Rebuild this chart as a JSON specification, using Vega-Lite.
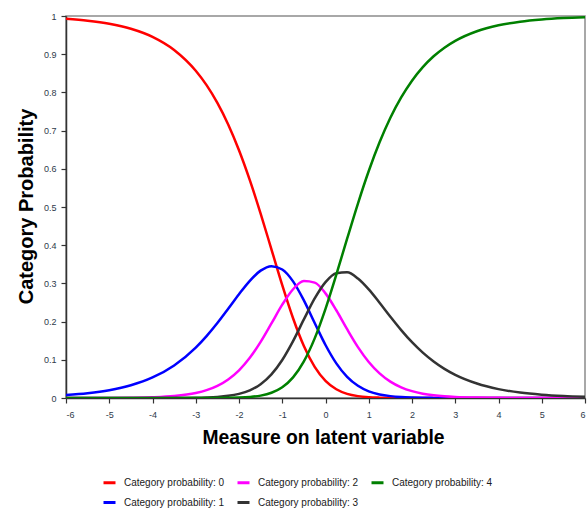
{
  "$schema": "https://vega.github.io/schema/vega-lite/v6.json",
  "width": 519,
  "height": 382,
  "autosize": {"type": "none"},
  "padding": {"left": 66, "top": 16, "right": 2, "bottom": 110},
  "background": "white",
  "config": {
    "view": {"stroke": "#8c8c8c", "strokeWidth": 1.5},
    "font": "Liberation Sans",
    "axis": {
      "grid": false,
      "domainColor": "#333333",
      "domainWidth": 1.5,
      "tickColor": "#333333",
      "tickWidth": 1.2,
      "tickSize": 5,
      "labelFont": "Liberation Sans",
      "labelFontSize": 9,
      "labelColor": "#2e3a4a",
      "titleFont": "Liberation Sans",
      "titleFontWeight": "bold",
      "titleColor": "#000000"
    }
  },
  "data": {
    "values": [
      {"x": -6, "c": "0", "p": 0.9925}, {"x": -6, "c": "1", "p": 0.0077}, {"x": -6, "c": "2", "p": 0.00004}, {"x": -6, "c": "3", "p": 0}, {"x": -6, "c": "4", "p": 0},
      {"x": -5.5, "c": "0", "p": 0.9876}, {"x": -5.5, "c": "1", "p": 0.0125}, {"x": -5.5, "c": "2", "p": 0.0001}, {"x": -5.5, "c": "3", "p": 0}, {"x": -5.5, "c": "4", "p": 0},
      {"x": -5, "c": "0", "p": 0.9797}, {"x": -5, "c": "1", "p": 0.0204}, {"x": -5, "c": "2", "p": 0.0003}, {"x": -5, "c": "3", "p": 0}, {"x": -5, "c": "4", "p": 0},
      {"x": -4.5, "c": "0", "p": 0.9667}, {"x": -4.5, "c": "1", "p": 0.0333}, {"x": -4.5, "c": "2", "p": 0.0007}, {"x": -4.5, "c": "3", "p": 0.00001}, {"x": -4.5, "c": "4", "p": 0},
      {"x": -4, "c": "0", "p": 0.9455}, {"x": -4, "c": "1", "p": 0.0537}, {"x": -4, "c": "2", "p": 0.0019}, {"x": -4, "c": "3", "p": 0.00004}, {"x": -4, "c": "4", "p": 0},
      {"x": -3.5, "c": "0", "p": 0.9112}, {"x": -3.5, "c": "1", "p": 0.0852}, {"x": -3.5, "c": "2", "p": 0.0051}, {"x": -3.5, "c": "3", "p": 0.0002}, {"x": -3.5, "c": "4", "p": 0},
      {"x": -3, "c": "0", "p": 0.8568}, {"x": -3, "c": "1", "p": 0.132}, {"x": -3, "c": "2", "p": 0.013}, {"x": -3, "c": "3", "p": 0.0007}, {"x": -3, "c": "4", "p": 0.00003},
      {"x": -2.75, "c": "0", "p": 0.8191}, {"x": -2.75, "c": "1", "p": 0.1621}, {"x": -2.75, "c": "2", "p": 0.0205}, {"x": -2.75, "c": "3", "p": 0.0015}, {"x": -2.75, "c": "4", "p": 0.0001},
      {"x": -2.5, "c": "0", "p": 0.7726}, {"x": -2.5, "c": "1", "p": 0.1962}, {"x": -2.5, "c": "2", "p": 0.0318}, {"x": -2.5, "c": "3", "p": 0.0029}, {"x": -2.5, "c": "4", "p": 0.0002},
      {"x": -2.25, "c": "0", "p": 0.7161}, {"x": -2.25, "c": "1", "p": 0.2336}, {"x": -2.25, "c": "2", "p": 0.0486}, {"x": -2.25, "c": "3", "p": 0.0056}, {"x": -2.25, "c": "4", "p": 0.0005},
      {"x": -2, "c": "0", "p": 0.6487}, {"x": -2, "c": "1", "p": 0.2717}, {"x": -2, "c": "2", "p": 0.0726}, {"x": -2, "c": "3", "p": 0.0109}, {"x": -2, "c": "4", "p": 0.0011},
      {"x": -1.75, "c": "0", "p": 0.5704}, {"x": -1.75, "c": "1", "p": 0.3068}, {"x": -1.75, "c": "2", "p": 0.1053}, {"x": -1.75, "c": "3", "p": 0.0202}, {"x": -1.75, "c": "4", "p": 0.0027},
      {"x": -1.5, "c": "0", "p": 0.4827}, {"x": -1.5, "c": "1", "p": 0.3334}, {"x": -1.5, "c": "2", "p": 0.1469}, {"x": -1.5, "c": "3", "p": 0.0363}, {"x": -1.5, "c": "4", "p": 0.0062},
      {"x": -1.25, "c": "0", "p": 0.3892}, {"x": -1.25, "c": "1", "p": 0.3451}, {"x": -1.25, "c": "2", "p": 0.1952}, {"x": -1.25, "c": "3", "p": 0.062}, {"x": -1.25, "c": "4", "p": 0.0137},
      {"x": -1, "c": "0", "p": 0.2954}, {"x": -1, "c": "1", "p": 0.3364}, {"x": -1, "c": "2", "p": 0.2443}, {"x": -1, "c": "3", "p": 0.0996}, {"x": -1, "c": "4", "p": 0.0282},
      {"x": -0.75, "c": "0", "p": 0.2088}, {"x": -0.75, "c": "1", "p": 0.3053}, {"x": -0.75, "c": "2", "p": 0.2847}, {"x": -0.75, "c": "3", "p": 0.149}, {"x": -0.75, "c": "4", "p": 0.0541},
      {"x": -0.5, "c": "0", "p": 0.1361}, {"x": -0.5, "c": "1", "p": 0.2555}, {"x": -0.5, "c": "2", "p": 0.306}, {"x": -0.5, "c": "3", "p": 0.2057}, {"x": -0.5, "c": "4", "p": 0.0959},
      {"x": -0.25, "c": "0", "p": 0.0815}, {"x": -0.25, "c": "1", "p": 0.1965}, {"x": -0.25, "c": "2", "p": 0.302}, {"x": -0.25, "c": "3", "p": 0.2607}, {"x": -0.25, "c": "4", "p": 0.1561},
      {"x": 0, "c": "0", "p": 0.0448}, {"x": 0, "c": "1", "p": 0.1387}, {"x": 0, "c": "2", "p": 0.2739}, {"x": 0, "c": "3", "p": 0.3035}, {"x": 0, "c": "4", "p": 0.2334},
      {"x": 0.25, "c": "0", "p": 0.0228}, {"x": 0.25, "c": "1", "p": 0.0906}, {"x": 0.25, "c": "2", "p": 0.2297}, {"x": 0.25, "c": "3", "p": 0.3268}, {"x": 0.25, "c": "4", "p": 0.3227},
      {"x": 0.5, "c": "0", "p": 0.0108}, {"x": 0.5, "c": "1", "p": 0.0553}, {"x": 0.5, "c": "2", "p": 0.18}, {"x": 0.5, "c": "3", "p": 0.3289}, {"x": 0.5, "c": "4", "p": 0.417},
      {"x": 0.75, "c": "0", "p": 0.0049}, {"x": 0.75, "c": "1", "p": 0.0319}, {"x": 0.75, "c": "2", "p": 0.1333}, {"x": 0.75, "c": "3", "p": 0.3127}, {"x": 0.75, "c": "4", "p": 0.5091},
      {"x": 1, "c": "0", "p": 0.0021}, {"x": 1, "c": "1", "p": 0.0175}, {"x": 1, "c": "2", "p": 0.0944}, {"x": 1, "c": "3", "p": 0.2842}, {"x": 1, "c": "4", "p": 0.5942},
      {"x": 1.25, "c": "0", "p": 0.0009}, {"x": 1.25, "c": "1", "p": 0.0094}, {"x": 1.25, "c": "2", "p": 0.0645}, {"x": 1.25, "c": "3", "p": 0.2494}, {"x": 1.25, "c": "4", "p": 0.6693},
      {"x": 1.5, "c": "0", "p": 0.0003}, {"x": 1.5, "c": "1", "p": 0.0049}, {"x": 1.5, "c": "2", "p": 0.0429}, {"x": 1.5, "c": "3", "p": 0.2129}, {"x": 1.5, "c": "4", "p": 0.7336},
      {"x": 1.75, "c": "0", "p": 0.0001}, {"x": 1.75, "c": "1", "p": 0.0024}, {"x": 1.75, "c": "2", "p": 0.0279}, {"x": 1.75, "c": "3", "p": 0.1778}, {"x": 1.75, "c": "4", "p": 0.7868},
      {"x": 2, "c": "0", "p": 0.0001}, {"x": 2, "c": "1", "p": 0.0012}, {"x": 2, "c": "2", "p": 0.0179}, {"x": 2, "c": "3", "p": 0.1461}, {"x": 2, "c": "4", "p": 0.8307},
      {"x": 2.25, "c": "0", "p": 0}, {"x": 2.25, "c": "1", "p": 0.0006}, {"x": 2.25, "c": "2", "p": 0.0113}, {"x": 2.25, "c": "3", "p": 0.1187}, {"x": 2.25, "c": "4", "p": 0.8661},
      {"x": 2.5, "c": "0", "p": 0}, {"x": 2.5, "c": "1", "p": 0.0003}, {"x": 2.5, "c": "2", "p": 0.0071}, {"x": 2.5, "c": "3", "p": 0.0955}, {"x": 2.5, "c": "4", "p": 0.8945},
      {"x": 2.75, "c": "0", "p": 0}, {"x": 2.75, "c": "1", "p": 0.0001}, {"x": 2.75, "c": "2", "p": 0.0044}, {"x": 2.75, "c": "3", "p": 0.0762}, {"x": 2.75, "c": "4", "p": 0.9171},
      {"x": 3, "c": "0", "p": 0}, {"x": 3, "c": "1", "p": 0.0001}, {"x": 3, "c": "2", "p": 0.0027}, {"x": 3, "c": "3", "p": 0.0605}, {"x": 3, "c": "4", "p": 0.935},
      {"x": 3.5, "c": "0", "p": 0}, {"x": 3.5, "c": "1", "p": 0}, {"x": 3.5, "c": "2", "p": 0.001}, {"x": 3.5, "c": "3", "p": 0.0378}, {"x": 3.5, "c": "4", "p": 0.9602},
      {"x": 4, "c": "0", "p": 0}, {"x": 4, "c": "1", "p": 0}, {"x": 4, "c": "2", "p": 0.0004}, {"x": 4, "c": "3", "p": 0.0233}, {"x": 4, "c": "4", "p": 0.9757},
      {"x": 4.5, "c": "0", "p": 0}, {"x": 4.5, "c": "1", "p": 0}, {"x": 4.5, "c": "2", "p": 0.0001}, {"x": 4.5, "c": "3", "p": 0.0142}, {"x": 4.5, "c": "4", "p": 0.9852},
      {"x": 5, "c": "0", "p": 0}, {"x": 5, "c": "1", "p": 0}, {"x": 5, "c": "2", "p": 0.0001}, {"x": 5, "c": "3", "p": 0.0087}, {"x": 5, "c": "4", "p": 0.991},
      {"x": 5.5, "c": "0", "p": 0}, {"x": 5.5, "c": "1", "p": 0}, {"x": 5.5, "c": "2", "p": 0}, {"x": 5.5, "c": "3", "p": 0.0053}, {"x": 5.5, "c": "4", "p": 0.9946},
      {"x": 6, "c": "0", "p": 0}, {"x": 6, "c": "1", "p": 0}, {"x": 6, "c": "2", "p": 0}, {"x": 6, "c": "3", "p": 0.0032}, {"x": 6, "c": "4", "p": 0.9967}
    ]
  },
  "mark": {"type": "line", "interpolate": "monotone", "strokeWidth": 2.5, "clip": true},
  "encoding": {
    "x": {
      "field": "x",
      "type": "quantitative",
      "scale": {"domain": [-6, 6], "nice": false, "zero": false},
      "axis": {
        "values": [-6, -5, -4, -3, -2, -1, 0, 1, 2, 3, 4, 5, 6],
        "labelExpr": "'' + datum.value",
        "labelPadding": 7,
        "title": "Measure on latent variable",
        "titleFontSize": 19.3,
        "titleX": 257,
        "titleY": 45,
        "titleBaseline": "alphabetic",
        "titleAlign": "center"
      }
    },
    "y": {
      "field": "p",
      "type": "quantitative",
      "scale": {"domain": [0, 1], "nice": false},
      "axis": {
        "values": [0, 0.1, 0.2, 0.3, 0.4, 0.5, 0.6, 0.7, 0.8, 0.9, 1],
        "labelExpr": "'' + datum.value",
        "labelPadding": 5,
        "title": "Category Probability",
        "titleFontSize": 20,
        "titleX": -34,
        "titleY": 190,
        "titleAngle": 270,
        "titleBaseline": "alphabetic",
        "titleAlign": "center"
      }
    },
    "color": {
      "field": "c",
      "type": "nominal",
      "scale": {
        "domain": ["0", "1", "2", "3", "4"],
        "range": ["#ff0000", "#0000ff", "#ff00ff", "#333333", "#008000"]
      },
      "legend": {
        "title": null,
        "orient": "none",
        "legendX": 36,
        "legendY": 459,
        "columns": 3,
        "columnPadding": 6,
        "rowPadding": 6,
        "symbolType": "stroke",
        "symbolSize": 144,
        "symbolStrokeWidth": 3,
        "labelOffset": 7,
        "labelFontSize": 10,
        "labelFont": "Liberation Sans",
        "labelColor": "#1a1a1a",
        "labelExpr": "'Category probability: ' + datum.label",
        "padding": 0
      }
    }
  }
}
